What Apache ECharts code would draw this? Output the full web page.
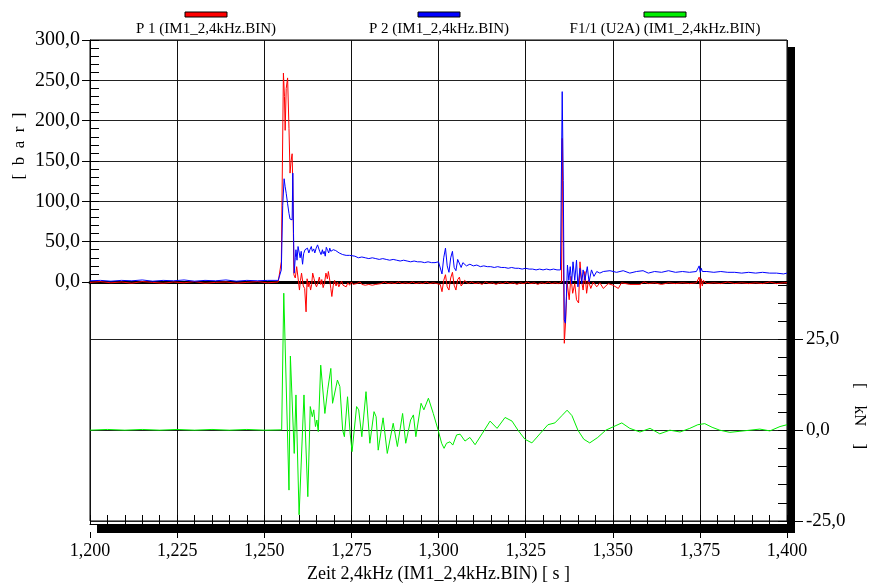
<!DOCTYPE html>
<html><head><meta charset="utf-8">
<script src="https://cdn.jsdelivr.net/npm/echarts@6/dist/echarts.min.js"></script>
<style>html,body{margin:0;padding:0;background:#fff}#c{width:873px;height:583px}</style>
</head><body><div id="c"></div>
<script>
// ---------- data ----------
const seriesNames = ['P 1 (IM1_2,4kHz.BIN)', 'P 2 (IM1_2,4kHz.BIN)', 'F1/1 (U2A) (IM1_2,4kHz.BIN)'];
const seriesColors = ['#ff0000', '#0000ff', '#00ee00'];
const xTitle = 'Zeit 2,4kHz (IM1_2,4kHz.BIN) [ s ]';
const leftUnit = '[\u2002b\u2002a\u2002r\u2002]';
const rightUnit = '[\u2003kN\u2003]';
const rightLabels = [-25, 0, 25];

// P1 [time s, bar]
const p1 = [
[1.2000,-0.5],[1.2030,0.5],[1.2060,-1],[1.2090,0],[1.2120,-1.5],[1.2150,0.5],[1.2180,-0.5],[1.2210,-1.5],[1.2240,0],[1.2270,-1],
[1.2300,0.5],[1.2330,-1.5],[1.2360,-0.5],[1.2390,0],[1.2420,-1.5],[1.2450,-0.5],[1.2480,0.5],[1.2510,-1],[1.2540,0],
[1.2545,1],[1.2549,25],[1.2555,259],[1.2558,230],[1.2560,188],[1.2563,240],[1.2567,253],[1.2571,190],[1.2574,135],[1.2577,150],
[1.2580,159],[1.2582,120],[1.2585,9],[1.2589,5],[1.2593,19],[1.2597,5],[1.2601,-10],[1.2604,2],[1.2607,11],[1.2612,-5],[1.2616,-8],
[1.2620,-37],[1.2623,4],[1.2626,-6],[1.2629,0],[1.2633,-10],[1.2636,-3],[1.2639,11],[1.2643,4],[1.2646,-2],[1.2650,-6],[1.2654,-1],
[1.2658,6],[1.2662,-3],[1.2665,3],[1.2669,-7],[1.2673,-1],[1.2677,11],[1.2681,4],[1.2684,13],[1.2688,2],[1.2691,-8],[1.2694,-18],
[1.2698,-4],[1.2702,2],[1.2706,-5],[1.2710,0],[1.2714,-6],[1.2718,-2],[1.2722,1],[1.2726,-4],[1.2730,-2],[1.2735,-6],[1.2740,-1],
[1.2745,-4],[1.2750,0],[1.2755,-3],[1.2760,-5],[1.2765,-2],[1.2770,-4],[1.2775,0],[1.2780,-3],[1.2785,-1],[1.2790,-4],[1.2795,-2],
[1.2800,-3],[1.2805,-1],[1.2810,-4],[1.2815,-2],[1.2820,-3],[1.2825,-1],[1.2835,-2],[1.2845,0],[1.2855,-2],[1.2865,-1],[1.2875,-2],
[1.2885,0],[1.2895,-2],[1.2905,-1],[1.2915,-2],[1.2925,0],[1.2935,-2],[1.2945,-1],[1.2955,-2],[1.2965,0],[1.2975,-2],[1.2985,-1],[1.2995,-2],
[1.3005,-3],[1.3010,-12],[1.3015,2],[1.3020,9],[1.3025,-6],[1.3030,-10],[1.3035,5],[1.3040,12],[1.3045,-4],[1.3050,-10],[1.3055,3],
[1.3060,6],[1.3065,-5],[1.3070,-2],[1.3075,2],[1.3085,-2],[1.3095,0],[1.3105,-2],[1.3115,-1],[1.3125,-3],[1.3135,0],[1.3145,-2],
[1.3155,-1],[1.3165,-3],[1.3175,-1],[1.3185,-2],[1.3195,0],[1.3205,-2],[1.3215,-1],[1.3225,-3],[1.3235,-1],[1.3245,-2],[1.3255,0],
[1.3265,-2],[1.3275,-1],[1.3285,-3],[1.3295,-1],[1.3305,-2],[1.3315,0],[1.3325,-2],[1.3335,-1],[1.3345,-2],
[1.3353,0],[1.3355,178],[1.3358,44],[1.3361,-76],[1.3365,-47],[1.3369,0],[1.3375,-22],[1.3380,7],[1.3385,-14],[1.3391,-2],
[1.3396,-22],[1.3402,-26],[1.3406,25],[1.3411,0],[1.3415,-10],[1.3420,13],[1.3425,-14],[1.3430,2],[1.3437,-8],[1.3444,0],
[1.3454,-6],[1.3463,-1],[1.3473,-8],[1.3487,-2],[1.3501,-4],[1.3516,-8],[1.3525,-1],[1.3549,-3],[1.3578,-3],[1.3590,0],[1.3602,-2],
[1.3620,-1],[1.3640,-3],[1.3660,-1],[1.3680,-2],[1.3700,-1],[1.3720,-2],[1.3740,-1],[1.3745,-2],[1.3748,6],[1.3751,-8],[1.3754,4],
[1.3757,-5],[1.3760,2],[1.3770,-2],[1.3790,-1],[1.3810,-2],[1.3830,0],[1.3850,-2],[1.3870,-1],[1.3890,-2],[1.3910,-1],[1.3930,-2],
[1.3950,0],[1.3970,-2],[1.3990,-1],[1.4000,-1]
];

// P2 [time s, bar]
const p2 = [
[1.2000,1.5],[1.2030,2],[1.2060,1],[1.2090,2],[1.2120,1.5],[1.2150,2.5],[1.2180,1],[1.2210,2],[1.2240,1.5],[1.2270,2.5],
[1.2300,1],[1.2330,2],[1.2360,1.5],[1.2390,2.5],[1.2420,1],[1.2450,2],[1.2480,1.5],[1.2510,2],[1.2540,2],
[1.2545,2],[1.2549,15],[1.2553,95],[1.2557,128],[1.2560,118],[1.2563,110],[1.2567,97],[1.2569,99],[1.2571,85],[1.2574,78],
[1.2577,80],[1.2580,77],[1.2582,135],[1.2584,60],[1.2586,11],[1.2589,30],[1.2591,40],[1.2594,27],[1.2597,44],[1.2600,46],
[1.2603,30],[1.2606,38],[1.2610,22],[1.2613,35],[1.2617,40],[1.2621,38],[1.2624,42],[1.2628,36],[1.2631,40],[1.2635,44],
[1.2638,38],[1.2642,41],[1.2645,36],[1.2649,42],[1.2653,46],[1.2656,44],[1.2659,38],[1.2663,34],[1.2667,40],[1.2669,35],
[1.2672,38],[1.2675,32],[1.2678,43],[1.2682,39],[1.2685,36],[1.2688,42],[1.2691,38],[1.2695,36],[1.2698,40],[1.2701,38],
[1.2705,39],[1.2709,37],[1.2715,36],[1.2720,35],[1.2725,34],[1.2730,34],[1.2735,33],[1.2740,32],[1.2745,33],[1.2750,31],
[1.2760,32],[1.2770,30],[1.2780,31],[1.2790,30],[1.2800,29],[1.2810,30],[1.2820,29],[1.2830,28],[1.2840,29],[1.2850,28],
[1.2860,27],[1.2870,28],[1.2880,27],[1.2890,26],[1.2900,27],[1.2910,26],[1.2920,25],[1.2930,26],[1.2940,25],[1.2950,25],
[1.2960,24],[1.2970,25],[1.2980,24],[1.2990,24],[1.3000,25],[1.3005,24],[1.3010,10],[1.3015,30],[1.3020,42],[1.3025,20],
[1.3030,12],[1.3035,30],[1.3040,38],[1.3045,18],[1.3050,14],[1.3055,28],[1.3060,30],[1.3065,18],[1.3070,24],[1.3080,20],
[1.3090,22],[1.3100,20],[1.3110,21],[1.3120,19],[1.3130,20],[1.3140,19],[1.3150,19],[1.3160,18],[1.3170,19],[1.3180,18],
[1.3190,18],[1.3200,17],[1.3210,18],[1.3220,17],[1.3230,17],[1.3240,16],[1.3250,17],[1.3260,16],[1.3270,16],[1.3280,15],
[1.3290,16],[1.3300,15],[1.3310,16],[1.3320,15],[1.3330,16],[1.3340,15],[1.3350,15],
[1.3353,13],[1.3355,236],[1.3358,126],[1.3361,-47],[1.3364,-51],[1.3367,-18],[1.3370,21],[1.3374,2],[1.3378,19],[1.3382,-2],
[1.3386,25],[1.3391,2],[1.3396,27],[1.3400,-6],[1.3406,17],[1.3411,-2],[1.3415,15],[1.3420,2],[1.3427,19],[1.3432,0],
[1.3439,15],[1.3446,7],[1.3454,13],[1.3463,11],[1.3473,13],[1.3492,14],[1.3511,12],[1.3530,14],[1.3549,11],[1.3568,13],
[1.3587,14],[1.3602,11],[1.3620,13],[1.3640,12],[1.3660,14],[1.3680,12],[1.3700,13],[1.3720,12],[1.3740,13],[1.3745,14],
[1.3748,20],[1.3751,12],[1.3754,17],[1.3757,13],[1.3770,13],[1.3790,12],[1.3810,13],[1.3830,12],[1.3850,12],[1.3870,11],
[1.3890,12],[1.3910,11],[1.3930,12],[1.3950,11],[1.3970,11],[1.3990,10],[1.4000,11]
];

// F1 [time s, kN]
const f1 = [
[1.2000,0],[1.2050,0.2],[1.2100,0],[1.2150,0.2],[1.2200,0],[1.2250,0.2],[1.2300,0],[1.2350,0.2],[1.2400,0],[1.2450,0.2],
[1.2500,0],[1.2550,0.1],[1.2556,37.7],[1.2571,-16.5],[1.2575,20.4],[1.2586,-6.4],[1.2591,9.7],[1.2600,-23.3],[1.2614,9.7],
[1.2625,-18.3],[1.2632,6.5],[1.2638,3.7],[1.2642,5.6],[1.2647,1.0],[1.2651,2.8],[1.2655,-0.4],[1.2662,17.9],[1.2674,4.6],
[1.2682,11.1],[1.2691,17.0],[1.2696,7.4],[1.2710,13.8],[1.2717,12.0],[1.2725,0],[1.2730,-1.8],[1.2739,9.2],[1.2746,-0.4],
[1.2752,-5.9],[1.2765,6.5],[1.2771,5.6],[1.2780,-1.8],[1.2792,10.6],[1.2803,-3.6],[1.2815,5.1],[1.2821,3.7],[1.2827,-5.5],
[1.2841,3.4],[1.2853,-6.4],[1.2870,1.9],[1.2882,-4.5],[1.2897,4.6],[1.2906,-3.6],[1.2920,2.8],[1.2928,4.2],[1.2935,-1.8],
[1.2950,7.4],[1.2958,5.6],[1.2971,8.8],[1.2985,4.6],[1.2999,0],[1.3009,-3.6],[1.3016,-5.0],[1.3023,-3.6],[1.3033,-3.2],
[1.3041,-4.1],[1.3052,-1.3],[1.3062,-1.1],[1.3076,-3],[1.3090,-2],[1.3105,-4],[1.3125,-1],[1.3148,2.5],[1.3168,0.5],
[1.3191,3.5],[1.3211,2.5],[1.3228,0],[1.3248,-2.5],[1.3268,-3.5],[1.3291,-1],[1.3314,1.5],[1.3334,2],[1.3354,4],[1.3369,5.5],
[1.3383,4],[1.3400,0],[1.3417,-2.5],[1.3434,-3.5],[1.3457,-2],[1.3480,0],[1.3503,1],[1.3526,2],[1.3549,0.5],[1.3578,-0.5],
[1.3607,0.5],[1.3635,-1],[1.3664,0],[1.3693,-0.5],[1.3721,0.5],[1.3744,1.5],[1.3764,1.8],[1.3785,0.8],[1.3807,0],[1.3836,-0.6],
[1.3865,-0.3],[1.3894,0],[1.3922,0.3],[1.3951,-0.2],[1.3980,1],[1.4000,1.5]
];

// ---------- chart ----------
const FONT = 'Liberation Serif';
const fmt1 = v => v.toFixed(1).replace('.', ',');
const fmt3 = v => v.toFixed(3).replace('.', ',');
const chart = echarts.init(document.getElementById('c'), null, {renderer: 'canvas'});
const G = {left: 90, right: 86, outerBoundsMode: 'none', containLabel: false};
const tMin = 1.2, tMax = 1.4;

const legendGraphics = [];
const legendCenters = [206, 439, 665];
seriesNames.forEach((n, i) => {
  legendGraphics.push({type: 'rect', shape: {x: legendCenters[i] - 21, y: 12, width: 42, height: 5},
    style: {fill: seriesColors[i], stroke: '#000', lineWidth: 1}});
  legendGraphics.push({type: 'text', x: legendCenters[i], y: 29,
    style: {text: n, fill: '#000', font: '15px "' + FONT + '"', textAlign: 'center', textVerticalAlign: 'middle'}});
});

chart.setOption({
  animation: false,
  backgroundColor: '#fff',
  grid: [
    Object.assign({top: 40, bottom: 62, show: true, borderColor: '#000', borderWidth: 1, backgroundColor: 'transparent'}, G),
    Object.assign({top: 40, height: 242}, G),
    Object.assign({top: 282, bottom: 62}, G)
  ],
  xAxis: [
    {gridIndex: 0, type: 'value', min: tMin, max: tMax, interval: 0.025, position: 'bottom', offset: 11,
     axisLine: {show: false, onZero: false}, axisTick: {show: true, inside: false, length: 6, lineStyle: {color: '#000'}},
     axisLabel: {formatter: fmt3, margin: 10, color: '#000', fontFamily: FONT, fontSize: 18},
     splitLine: {show: true, lineStyle: {color: '#111', width: 1}},
     name: xTitle, nameLocation: 'middle', nameGap: 30, nameTextStyle: {color: '#000', fontFamily: FONT, fontSize: 18}},
    {gridIndex: 0, type: 'value', min: tMin, max: tMax, interval: 0.005, position: 'bottom', offset: 3,
     axisLine: {show: true, onZero: false, lineStyle: {color: '#000', width: 1}},
     axisTick: {show: true, inside: true, length: 9, lineStyle: {color: '#000'}},
     axisLabel: {show: false}, splitLine: {show: false}},
    {gridIndex: 1, type: 'value', min: tMin, max: tMax, position: 'bottom', z: 1,
     axisLine: {show: true, onZero: false, lineStyle: {color: '#000', width: 3}}, axisTick: {show: false}, axisLabel: {show: false}, splitLine: {show: false}},
    {gridIndex: 2, type: 'value', min: tMin, max: tMax, show: false, axisLine: {onZero: false}}
  ],
  yAxis: [
    {gridIndex: 0, type: 'value', min: -296.3, max: 300, show: false, axisLine: {onZero: false}},
    {gridIndex: 0, type: 'value', min: -25, max: 107.4, show: false, axisLine: {onZero: false}},
    {gridIndex: 1, type: 'value', min: 0, max: 300, interval: 50, position: 'left',
     axisLine: {show: true, onZero: false, lineStyle: {color: '#000'}},
     axisTick: {show: true, inside: false, length: 8, lineStyle: {color: '#000'}},
     axisLabel: {formatter: fmt1, margin: 10, color: '#000', fontFamily: FONT, fontSize: 20},
     splitLine: {show: true, lineStyle: {color: '#222', width: 1}}},
    {gridIndex: 1, type: 'value', min: 0, max: 300, interval: 10, position: 'left',
     axisLine: {show: false, onZero: false}, axisTick: {show: true, inside: true, length: 9, lineStyle: {color: '#000'}},
     axisLabel: {show: false}, splitLine: {show: false}},
    {gridIndex: 2, type: 'value', min: -25, max: 40.8, interval: 25, position: 'right', offset: 7,
     axisLine: {show: false, onZero: false},
     axisTick: {show: true, inside: false, length: 9, customValues: rightLabels, lineStyle: {color: '#000'}},
     axisLabel: {customValues: rightLabels, formatter: fmt1, margin: 12, color: '#000', fontFamily: FONT, fontSize: 19},
     splitLine: {show: true, lineStyle: {color: '#222', width: 1}}},
    {gridIndex: 2, type: 'value', min: -25, max: 40.8, interval: 5, position: 'right',
     axisLine: {show: false, onZero: false}, axisTick: {show: true, inside: true, length: 9, lineStyle: {color: '#000'}},
     axisLabel: {show: false}, splitLine: {show: false}}
  ],
  series: [
    {name: seriesNames[0], type: 'line', xAxisIndex: 0, yAxisIndex: 0, data: p1, symbol: 'none', clip: true,
     lineStyle: {color: seriesColors[0], width: 1}, itemStyle: {color: seriesColors[0]}},
    {name: seriesNames[1], type: 'line', xAxisIndex: 0, yAxisIndex: 0, data: p2, symbol: 'none', clip: true,
     lineStyle: {color: seriesColors[1], width: 1}, itemStyle: {color: seriesColors[1]}},
    {name: seriesNames[2], type: 'line', xAxisIndex: 0, yAxisIndex: 1, data: f1, symbol: 'none', clip: true,
     lineStyle: {color: seriesColors[2], width: 1}, itemStyle: {color: seriesColors[2]}}
  ],
  graphic: legendGraphics.concat([
    {type: 'rect', shape: {x: 787, y: 47, width: 8, height: 486}, style: {fill: '#000'}},
    {type: 'rect', shape: {x: 97, y: 525, width: 698, height: 8}, style: {fill: '#000'}},
    {type: 'text', x: 20, y: 146, rotation: Math.PI / 2,
     style: {text: leftUnit, fill: '#000', font: '17px "' + FONT + '"', textAlign: 'center', textVerticalAlign: 'middle'}},
    {type: 'text', x: 859, y: 416, rotation: -Math.PI / 2,
     style: {text: rightUnit, fill: '#000', font: '17px "' + FONT + '"', textAlign: 'center', textVerticalAlign: 'middle'}}
  ])
});
</script>
</body></html>
